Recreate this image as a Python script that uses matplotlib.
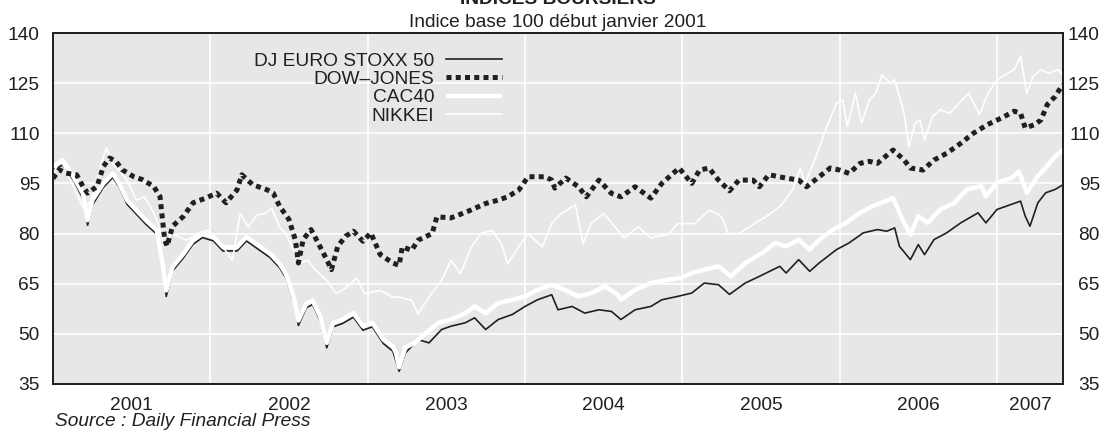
import numpy as np
import matplotlib
matplotlib.use("Agg")
import matplotlib.pyplot as plt
from matplotlib.ticker import FixedLocator, NullFormatter, FixedFormatter

plt.rcParams['font.family'] = ['Liberation Sans', 'DejaVu Sans']

# time as years elapsed since 1 Jan 2001, values: index base 100
stoxx_t = [0.00, 0.06, 0.13, 0.19, 0.22, 0.25, 0.32, 0.38, 0.42, 0.47, 0.53, 0.59, 0.66,
           0.70, 0.72, 0.76, 0.83, 0.89, 0.95, 1.02, 1.08, 1.17, 1.23, 1.29, 1.38, 1.44,
           1.48, 1.53, 1.56, 1.61, 1.65, 1.70, 1.74, 1.78, 1.84, 1.91, 1.97, 2.03, 2.10,
           2.16, 2.20, 2.24, 2.32, 2.39, 2.47, 2.53, 2.62, 2.68, 2.75, 2.83, 2.92, 3.00,
           3.08, 3.17, 3.21, 3.30, 3.38, 3.47, 3.55, 3.61, 3.70, 3.80, 3.87, 3.97, 4.06,
           4.14, 4.23, 4.30, 4.40, 4.49, 4.62, 4.66, 4.74, 4.81, 4.87, 4.98, 5.06, 5.15,
           5.24, 5.30, 5.35, 5.38, 5.45, 5.50, 5.54, 5.60, 5.68, 5.77, 5.88, 5.93, 6.00,
           6.09, 6.15, 6.18, 6.21, 6.26, 6.31, 6.37, 6.42]
stoxx = [99, 100.5, 96, 90.5, 82.5, 88.5, 93.8, 96.8, 94, 88.8, 85.8, 82.8, 79.8,
         68.8, 61.2, 68.8, 72.8, 76.8, 78.8, 77.8, 74.8, 74.8, 77.8, 75.8, 72.8, 69.8,
         66.8, 59.8, 52.5, 57.8, 58.8, 53.8, 45.8, 52.1, 53.1, 55, 51.1, 52.1, 47.1,
         44.8, 38.8, 44.3, 48.3, 47.3, 51.3, 52.3, 53.3, 54.8, 51.3, 54.3, 55.8, 58.2,
         60.2, 61.7, 57.2, 58.2, 56.2, 57.2, 56.7, 54.3, 57.2, 58.2, 60.2, 61.2, 62.2,
         65.2, 64.7, 61.8, 65.2, 67.2, 70.2, 68.2, 72.2, 68.7, 71.2, 75.2, 77.2, 80.2,
         81.2, 80.7, 81.7, 76.2, 72.2, 76.7, 73.7, 78.2, 80.2, 83.2, 86.2, 83.2, 87.2,
         88.7, 89.7, 85.2, 82.2, 89.2, 92.2, 93.2, 94.6]

dow_t = [0.00, 0.04, 0.08, 0.15, 0.19, 0.22, 0.28, 0.32, 0.36, 0.40, 0.44, 0.51, 0.57,
         0.64, 0.68, 0.71, 0.725, 0.76, 0.83, 0.89, 0.97, 1.04, 1.10, 1.17, 1.20, 1.27,
         1.36, 1.40, 1.44, 1.50, 1.54, 1.56, 1.59, 1.64, 1.68, 1.74, 1.77, 1.81, 1.86,
         1.91, 1.97, 2.02, 2.08, 2.16, 2.20, 2.22, 2.28, 2.32, 2.41, 2.44, 2.53, 2.64,
         2.75, 2.83, 2.89, 2.96, 3.02, 3.13, 3.17, 3.19, 3.26, 3.34, 3.39, 3.47, 3.55,
         3.61, 3.70, 3.80, 3.87, 3.98, 4.06, 4.11, 4.17, 4.23, 4.30, 4.36, 4.45, 4.49,
         4.55, 4.66, 4.74, 4.79, 4.87, 4.94, 5.00, 5.06, 5.13, 5.19, 5.24, 5.34, 5.41,
         5.45, 5.53, 5.60, 5.68, 5.77, 5.85, 5.94, 6.03, 6.11, 6.15, 6.18, 6.24, 6.28,
         6.32, 6.37, 6.41, 6.42]
dow = [96.5, 99.1, 98.1, 97.6, 94.1, 92.1, 94.1, 100.1, 102.6, 101.6, 99.1, 97.1, 96.1,
       94.1, 91.1, 78.2, 76.2, 82.2, 85.2, 89.2, 90.6, 92.1, 89.2, 93.1, 97.6, 94.6,
       93.1, 92.1, 88.2, 84.2, 78.2, 71.2, 78.2, 81.2, 77.7, 72.2, 69.2, 76.2, 79.2,
       80.7, 77.7, 80.2, 73.7, 71.2, 70.5, 76, 75, 78, 80, 85, 84.7, 86.7,
       89, 90, 91, 93, 97, 97, 96, 93.6, 96.6, 94, 91, 96, 92,
       91, 94, 90.6, 95, 99.6, 95, 99, 99.6, 96, 92.8, 96, 96, 94,
       97.6, 96.6, 96, 94, 97, 99.6, 99, 98, 101, 101.6, 101, 105, 102,
       99.6, 99, 102, 104, 107, 110, 112.6, 114.6, 116.6, 116, 111.6, 112.6, 114,
       118.6, 121, 124, 124.5]

cac_t = [0.00, 0.06, 0.13, 0.19, 0.22, 0.25, 0.32, 0.38, 0.42, 0.47, 0.53, 0.59, 0.66,
         0.70, 0.72, 0.76, 0.83, 0.89, 0.95, 1.02, 1.08, 1.17, 1.23, 1.29, 1.38, 1.44,
         1.48, 1.53, 1.56, 1.61, 1.65, 1.70, 1.74, 1.78, 1.84, 1.91, 1.97, 2.03, 2.10,
         2.16, 2.18, 2.20, 2.24, 2.30, 2.37, 2.45, 2.53, 2.62, 2.68, 2.75, 2.83, 2.92,
         3.00, 3.08, 3.17, 3.25, 3.34, 3.42, 3.51, 3.59, 3.61, 3.70, 3.80, 3.91, 3.99,
         4.06, 4.14, 4.23, 4.31, 4.40, 4.51, 4.59, 4.66, 4.74, 4.81, 4.87, 4.96, 5.04,
         5.13, 5.21, 5.34, 5.40, 5.45, 5.50, 5.56, 5.64, 5.73, 5.81, 5.90, 5.93, 6.00,
         6.09, 6.14, 6.19, 6.26, 6.32, 6.37, 6.42]
cac = [100, 102, 97, 92, 84, 90, 95, 98, 95, 90, 87, 84, 81,
       70, 63, 70, 74, 78, 80, 79, 76, 76, 79, 77, 74, 71,
       68, 61, 54, 59, 60, 55, 47.3, 53.3, 54.3, 56.2, 52.3, 53.3, 48.3,
       46.3, 44.3, 40, 46, 47.3, 50.3, 53.3, 54.3, 56.2, 58.2, 56.2, 59.2, 60.2,
       61.2, 63.2, 64.7, 63.2, 61.2, 62.2, 64.2, 61.7, 60.2, 63.2, 65.2, 66.2, 66.7,
       68.2, 69.2, 70.2, 67.2, 71.2, 74.2, 77.2, 76.2, 78.2, 75.2, 78.2, 81.2, 83.2,
       86.2, 88.2, 90.6, 84.2, 79.7, 85.2, 83.2, 87.2, 89.2, 93.2, 94.2, 91.2, 95.2,
       96.6, 98.6, 92.2, 97.2, 100.2, 103.1, 105.1]

nikkei_t = [0.00, 0.05, 0.10, 0.15, 0.20, 0.24, 0.28, 0.32, 0.34, 0.38, 0.42, 0.47, 0.53,
            0.58, 0.62, 0.66, 0.71, 0.75, 0.80, 0.85, 0.92, 0.98, 1.04, 1.08, 1.14, 1.19,
            1.24, 1.30, 1.35, 1.39, 1.44, 1.48, 1.52, 1.56, 1.62, 1.67, 1.74, 1.80, 1.86,
            1.93, 1.98, 2.08, 2.16, 2.20, 2.28, 2.32, 2.39, 2.47, 2.53, 2.59, 2.66, 2.72,
            2.79, 2.85, 2.89, 2.96, 3.02, 3.11, 3.17, 3.23, 3.32, 3.37, 3.42, 3.50, 3.59,
            3.63, 3.72, 3.80, 3.91, 3.97, 4.08, 4.17, 4.23, 4.26, 4.29, 4.36, 4.45, 4.53,
            4.62, 4.70, 4.75, 4.78, 4.85, 4.91, 4.98, 5.02, 5.05, 5.10, 5.14, 5.19, 5.23,
            5.27, 5.32, 5.35, 5.41, 5.44, 5.48, 5.51, 5.54, 5.59, 5.64, 5.70, 5.76, 5.82,
            5.89, 5.94, 6.00, 6.07, 6.11, 6.15, 6.19, 6.23, 6.28, 6.33, 6.39, 6.42]
nikkei = [98, 102, 97, 92, 87, 90, 96, 103, 105.6, 101, 99, 96, 90,
          91, 88, 84, 76, 80, 79, 78, 80, 81, 78, 76, 72, 86,
          82, 85.7, 86, 87.7, 82, 80, 76, 71, 72, 69, 66, 62, 63.7,
          66.7, 62, 63, 61, 61, 60, 56, 61, 66, 72, 68, 76, 80,
          81, 77, 71, 76, 80, 76, 83, 86, 88.6, 77, 83, 86, 81,
          78.7, 82, 78.7, 79.7, 83, 83, 87, 85.7, 84, 80, 80, 82.7, 85,
          88, 93, 99.6, 95, 103, 111, 119, 120, 112, 122, 113, 120, 122,
          127.5, 125, 126, 116, 106, 113, 114, 108, 115, 117, 116, 119, 122,
          115.6, 121.6, 126, 128, 129, 133, 122, 127, 129, 128, 129, 127.5]

start_year = 2001
years = [2001, 2002, 2003, 2004, 2005, 2006, 2007]
x_end = 2007.42
y_ticks = [35, 50, 65, 80, 95, 110, 125, 140]

ink = '#231f20'
bg = '#e6e7e9'
fs = 13.8

fig = plt.figure(figsize=(11.15, 4.34), dpi=100)
ax = fig.add_axes([53 / 1115, 1 - 384 / 434, 1010 / 1115, 351 / 434])
ax.set_facecolor(bg)


def yr(t):
    return np.asarray(t) + start_year


l_stoxx, = ax.plot(yr(stoxx_t), stoxx, color=ink, lw=1.2, zorder=3,
                   label='DJ EURO STOXX 50')
l_cac, = ax.plot(yr(cac_t), cac, color='white', lw=3.2, zorder=4,
                 solid_capstyle='butt', label='CAC40')
l_nik, = ax.plot(yr(nikkei_t), nikkei, color='white', lw=1.2, zorder=5,
                 label='NIKKEI')
l_dow, = ax.plot(yr(dow_t), dow, color=ink, lw=3.6, zorder=6,
                 linestyle=(0, (1.0, 0.85)), dash_capstyle='butt',
                 label='DOW\u2013JONES')

ax.set_xlim(start_year, x_end)
ax.set_ylim(35, 140)

# gridlines at year boundaries, labels in the middle of each year
bounds = [y for y in years if y > start_year]
mids = [(y + min(y + 1, x_end)) / 2 for y in years]
ax.xaxis.set_major_locator(FixedLocator(bounds))
ax.xaxis.set_major_formatter(NullFormatter())
ax.xaxis.set_minor_locator(FixedLocator(mids))
ax.xaxis.set_minor_formatter(FixedFormatter([str(y) for y in years]))
ax.set_yticks(y_ticks)
ax.grid(True, which='major', color='white', lw=1.2, zorder=1)
ax.set_axisbelow(True)

ax.tick_params(axis='x', which='both', length=0, pad=9, labelsize=fs, labelcolor=ink)
ax.tick_params(axis='y', length=0, pad=9.5, labelsize=fs, labelcolor=ink)

ax2 = ax.twinx()
ax2.set_ylim(35, 140)
ax2.set_yticks(y_ticks)
ax2.tick_params(axis='y', length=0, pad=26.5, labelsize=fs, labelcolor=ink)
for lbl in ax2.get_yticklabels():
    lbl.set_horizontalalignment('right')

for a in (ax, ax2):
    for sp in a.spines.values():
        sp.set_color(ink)
        sp.set_linewidth(1.3)

leg = ax.legend(handles=[l_stoxx, l_dow, l_cac, l_nik], loc='upper right',
                bbox_to_anchor=(0.4446, 0.945), frameon=False, markerfirst=False,
                fontsize=fs, handlelength=2.9, handletextpad=0.65,
                labelspacing=0.05, borderpad=0, borderaxespad=0)
for txt in leg.get_texts():
    txt.set_color(ink)

fig.text(0.5, 1 - 4 / 434, 'INDICES BOURSIERS', ha='center', va='baseline',
         fontsize=fs, weight='bold', color=ink)
fig.text(0.5, 1 - 27 / 434, 'Indice base 100 début janvier 2001', ha='center',
         va='baseline', fontsize=fs, color=ink)
fig.text(55 / 1115, 1 - 422 / 434, 'Source : Daily Financial Press', ha='left',
         va='center', fontsize=fs, style='italic', color=ink)

fig.savefig('out.png', dpi=100)
